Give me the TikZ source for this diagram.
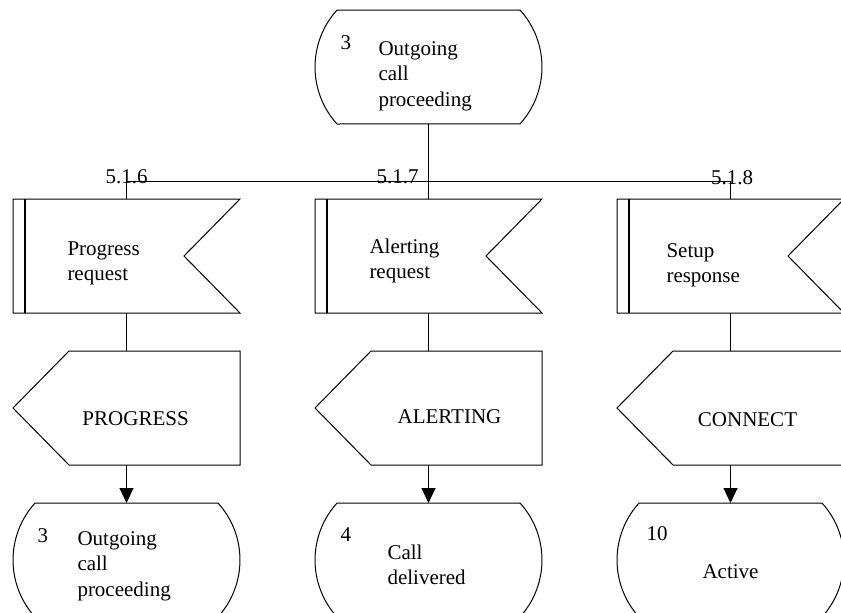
\documentclass[tikz,border=0pt]{standalone}
\usepackage{fontspec}
\setmainfont{Liberation Serif}
\usetikzlibrary{arrows.meta,positioning}

\tikzset{
  sdl/.style={minimum width=227pt, minimum height=114pt, inner sep=0pt, outer sep=0pt},
  txt/.style={font=\fontsize{21}{25.5}\selectfont, inner sep=0pt, align=left, anchor=base west},
  num/.style={font=\fontsize{21}{25.5}\selectfont, inner sep=0pt, anchor=base},
  flow/.style={-{Triangle[width=14pt,length=15pt]}},
}

\begin{document}
\begin{tikzpicture}[x=1pt, y=1pt, line width=1pt, node distance=38pt and 75pt]
  \clip (0,0) rectangle (841,-613);

  % boxes
  \node[sdl] (top) at (428.5,-67) {};
  \node[sdl] (in2) [below=75pt of top] {};
  \node[sdl] (in1) [left=of in2] {};
  \node[sdl] (in3) [right=of in2] {};
  \foreach \i in {1,2,3} {
    \node[sdl] (out\i) [below=of in\i] {};
    \node[sdl] (st\i)  [below=of out\i] {};
  }

  % states
  \foreach \s in {top,st1,st2,st3}
    \draw ([xshift=22pt]\s.north west) -- ([xshift=-22pt]\s.north east)
      arc[start angle=42.2, end angle=-42.2, radius=84.8pt]
      -- ([xshift=22pt]\s.south west)
      arc[start angle=222.2, end angle=137.8, radius=84.8pt] -- cycle;

  % input signals
  \foreach \s in {in1,in2,in3} {
    \draw (\s.north west) -- (\s.north east) -- ([xshift=-56pt]\s.east)
      -- (\s.south east) -- (\s.south west) -- cycle;
    \draw[line width=1.8pt] ([xshift=12pt]\s.north west) -- ([xshift=12pt]\s.south west);
  }

  % output signals
  \foreach \s in {out1,out2,out3}
    \draw ([xshift=56pt]\s.north west) -- (\s.north east) -- (\s.south east)
      -- ([xshift=56pt]\s.south west) -- (\s.west) -- cycle;

  % connectors
  \coordinate (b1) at ([yshift=17.5pt]in1.north);
  \coordinate (b2) at ([yshift=17.5pt]in2.north);
  \coordinate (b3) at ([yshift=17.5pt]in3.north);
  \draw (b1) -- (b3);
  \draw (top) -- (in2);
  \draw (b1) -- (in1);
  \draw (b3) -- (in3);
  \foreach \i in {1,2,3} {
    \draw (in\i) -- (out\i);
    \draw[flow] (out\i) -- (st\i);
  }

  % references
  \node[num] (r1) at ([yshift=-1.5pt]b1) {5.1.6};
  \node[num] (r2) at ([xshift=-31pt,yshift=-1.5pt]b2) {5.1.7};
  \node[num] (r3) at ([xshift=1.5pt,yshift=-3pt]b3) {5.1.8};

  % texts (base = last line)
  \node[txt] (top-n) at ([shift={(25pt,-39pt)}]top.north west) {3};
  \node[txt] (top-t) at ([shift={(63pt,-96pt)}]top.north west) {Outgoing\\call\\proceeding};
  \node[txt] (in1-t) at ([shift={(54pt,-81.5pt)}]in1.north west) {Progress\\request};
  \node[txt] (in2-t) at ([shift={(54pt,-79.5pt)}]in2.north west) {Alerting\\request};
  \node[txt] (in3-t) at ([shift={(49pt,-83.5pt)}]in3.north west) {Setup\\response};
  \node[num] (out1-t) at ([shift={(122.6pt,-74pt)}]out1.north west) {PROGRESS};
  \node[num] (out2-t) at ([shift={(134.5pt,-72pt)}]out2.north west) {ALERTING};
  \node[num] (out3-t) at ([shift={(130.5pt,-75pt)}]out3.north west) {CONNECT};
  \node[txt] (st1-n) at ([shift={(24pt,-39pt)}]st1.north west) {3};
  \node[txt] (st1-t) at ([shift={(64pt,-93pt)}]st1.north west) {Outgoing\\call\\proceeding};
  \node[txt] (st2-n) at ([shift={(25pt,-38pt)}]st2.north west) {4};
  \node[txt] (st2-t) at ([shift={(72pt,-81.5pt)}]st2.north west) {Call\\delivered};
  \node[txt] (st3-n) at ([shift={(29pt,-37pt)}]st3.north west) {10};
  \node[num] (st3-t) at ([shift={(113.5pt,-75pt)}]st3.north west) {Active};
\end{tikzpicture}
\end{document}
